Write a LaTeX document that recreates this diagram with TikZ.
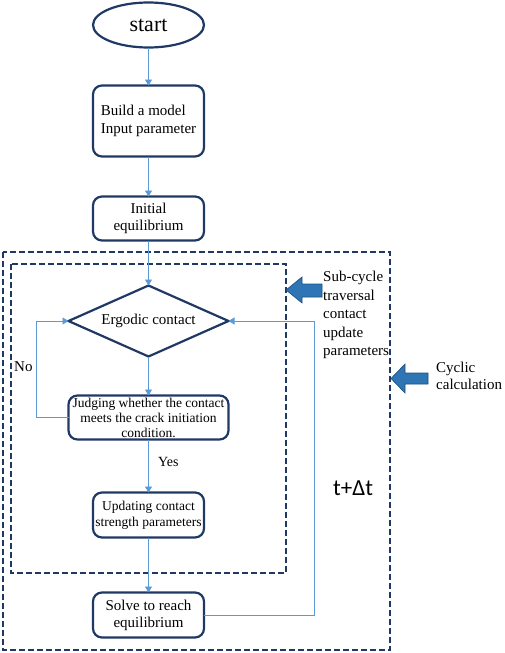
\documentclass[tikz,border=0pt]{standalone}
\usepackage{fontspec}
\setmainfont{Liberation Serif}
\newfontfamily\dtfont{Carlito}
\usetikzlibrary{shapes.geometric, positioning, arrows.meta}
\definecolor{navy}{HTML}{1F3864}
\definecolor{flowblue}{HTML}{5B9BD5}
\definecolor{blockblue}{HTML}{2E75B6}
\definecolor{blockedge}{HTML}{1F4E79}

\tikzset{
  box/.style={draw=navy, line width=2.2pt, rounded corners=9pt, minimum width=111pt, inner sep=0pt, outer sep=0pt, align=center, font=\fontsize{15}{17}\selectfont},
  flow/.style={draw=flowblue, line width=0.9pt, -{Triangle[width=7pt,length=6pt]}},
  dashbox/.style={draw=navy, line width=1.8pt, dash pattern=on 6pt off 3pt},
  bigarrow/.style={fill=blockblue, draw=blockedge, line width=0.6pt},
  txt/.style={anchor=north west, inner sep=0pt, align=left, font=\fontsize{15}{18}\selectfont}
}

\begin{document}
\begin{tikzpicture}[x=1pt, y=-1pt, node distance=40pt]
        \useasboundingbox (0,0) rectangle (505,653);
        %\tikzset{label/.style={midway,font=\small}}
        \node[ellipse, draw=navy, line width=2.2pt, minimum width=111pt, minimum height=45pt, inner sep=0pt, outer sep=0pt, font=\fontsize{22}{24}\selectfont] (start) at (148.5,25) {start};
        \node[box, minimum height=71pt, align=left, font=\fontsize{15}{18}\selectfont] (build) [below = 38pt of start] {Build a model\\Input parameter};
        \node[box, minimum height=44pt] (init) [below = 40pt of build] {Initial\\equilibrium};
        \node[diamond, aspect=2.25, draw=navy, line width=2.2pt, minimum width=160pt, minimum height=71pt, inner sep=0pt, outer sep=0pt, font=\fontsize{15}{17}\selectfont] (ergo) [below = 45pt of init] {Ergodic contact};
        \node[box, minimum width=160pt, minimum height=44pt, font=\fontsize{13.5}{15}\selectfont] (judge) [below = 39pt of ergo] {Judging whether the contact\\meets the crack initiation\\condition.};
        \node[box, minimum height=45pt, font=\fontsize{13.5}{16}\selectfont] (update) [below = 53pt of judge] {Updating contact\\strength parameters};
        \node[box, minimum height=45pt] (solve) [below = 55pt of update] {Solve to reach\\equilibrium};

        \draw[dashbox] (3,252) rectangle (390,650);
        \draw[dashbox] (11,264) rectangle (286,573);

        \draw[flow] (start) -- (build);
        \draw[flow] (build) -- (init);
        \draw[flow] (init) -- (ergo);
        \draw[flow] (ergo) -- (judge);
        \draw[flow] (judge) -- (update);
        \draw[flow] (update) -- (solve);
        \draw[flow] (judge.west) -- ++(-32,0) |- (ergo.west);
        \draw[flow] (solve.east) -- ++(110,0) |- (ergo.east);

        \node[txt] (no) at (14,361) {No};
        \node[txt, font=\fontsize{14}{16}\selectfont] (yes) at (158,457) {Yes};

        \draw[bigarrow] (286,290) -- (302,277) -- (302,284) -- (322,284) -- (322,297) -- (302,297) -- (302,303) -- cycle;
        \draw[bigarrow] (391,378.5) -- (405,364) -- (405,373) -- (428,373) -- (428,384) -- (405,384) -- (405,393) -- cycle;

        \node[txt, font=\fontsize{15}{18.5}\selectfont] (subcycle) at (323,271) {Sub-cycle\\traversal\\contact\\update\\parameters};
        \node[txt, font=\fontsize{15}{17}\selectfont] (cyclic) at (436,362) {Cyclic\\calculation};
        \node[anchor=north west, inner sep=0pt, font=\dtfont\fontsize{23}{26}\selectfont] (dt) at (333,481) {t+Δt};
\end{tikzpicture}
\end{document}
